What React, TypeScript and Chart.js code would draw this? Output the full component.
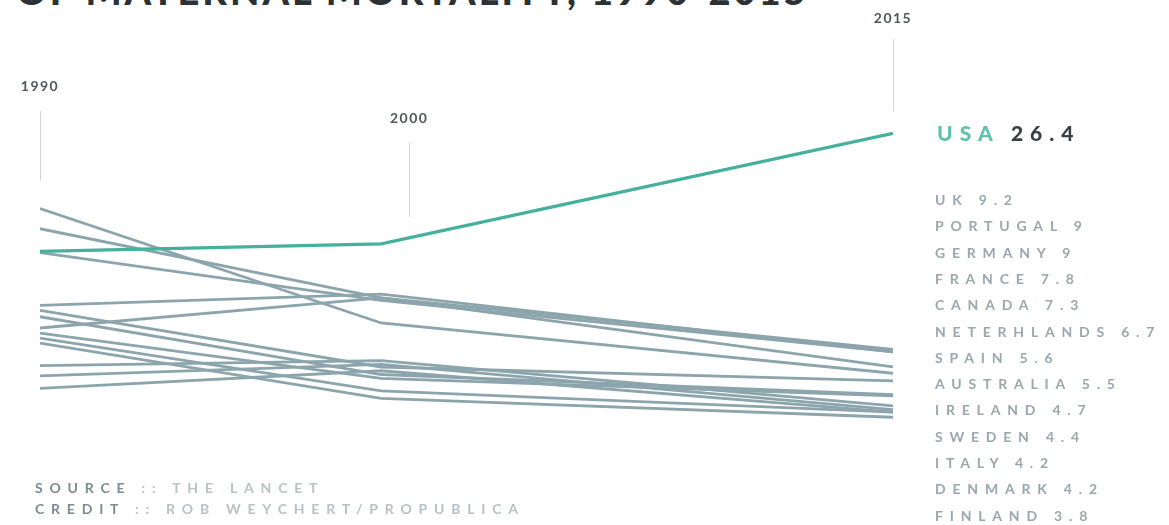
import React, { useEffect, useRef } from "react";
import { Chart, registerables } from "chart.js";

Chart.register(...registerables);

// ---- data ----
const years = [1990, 2000, 2015];
const usaValues = [17.0, 17.6, 26.4];
const countries = [
  "UK", "PORTUGAL", "GERMANY", "FRANCE", "CANADA", "NETERHLANDS", "SPAIN",
  "AUSTRALIA", "IRELAND", "SWEDEN", "ITALY", "DENMARK", "FINLAND",
];
const values1990 = [18.8, 16.9, 12.7, 10.9, 20.4, 12.3, 11.8, 10.5, 7.9, 7.1, 10.1, 6.1, 9.7];
const values2000 = [13.3, 13.1, 13.6, 13.3, 11.3, 7.8, 7.2, 6.9, 8.3, 8.0, 5.9, 7.5, 5.3];
const values2015 = [9.2, 9, 9, 7.8, 7.3, 6.7, 5.6, 5.5, 4.7, 4.4, 4.2, 4.2, 3.8];
const yearLabels = ["1990", "2000", "2015"];

const W = 1169;
const H = 525;
const TEAL = "#45b09c";
const GRAY = "#8ca5ad";

const labelStyle: React.CSSProperties = {
  fontFamily: "Lato, sans-serif",
  fontWeight: 700,
  fontSize: 14,
  letterSpacing: "6.8px",
  color: "#9aa7ac",
  whiteSpace: "nowrap",
  lineHeight: "16px",
};

const markerPlugin = {
  id: "yearMarkers",
  beforeDatasetsDraw(chart: any, _args: any, opts: any) {
    const { ctx, scales } = chart;
    const xs = scales.x;
    const ys = scales.y;
    ctx.save();
    years.forEach((yr, i) => {
      const all = [usaValues[i], ...(i === 0 ? values1990 : i === 1 ? values2000 : values2015)];
      const top = Math.max(...all);
      const m = opts.markers[i];
      const x = xs.getPixelForValue(yr) + m.dx;
      const yTop = ys.getPixelForValue(top);
      const lineBottom = yTop - m.gap;
      const lineTop = lineBottom - m.len;
      ctx.strokeStyle = "#cfd4d6";
      ctx.lineWidth = 1;
      ctx.beginPath();
      ctx.moveTo(Math.round(x) + 0.5, lineTop);
      ctx.lineTo(Math.round(x) + 0.5, lineBottom);
      ctx.stroke();
      ctx.fillStyle = "#50565a";
      ctx.font = "700 14px Lato, sans-serif";
      ctx.textAlign = "center";
      ctx.textBaseline = "middle";
      (ctx as any).letterSpacing = "1.5px";
      ctx.fillText(yearLabels[i], x, lineTop - m.labelGap);
    });
    ctx.restore();
  },
};

export default function App() {
  const ref = useRef<HTMLCanvasElement>(null);

  useEffect(() => {
    if (!ref.current) return;
    const grayDatasets = countries.map((c, i) => ({
      label: c,
      data: years.map((yr, j) => ({ x: yr, y: [values1990[i], values2000[i], values2015[i]][j] })),
      borderColor: GRAY,
      borderWidth: 2.8,
      pointRadius: 0,
      tension: 0,
      order: 1,
    }));
    const chart = new Chart(ref.current, {
      type: "line",
      data: {
        datasets: [
          {
            label: "USA",
            data: years.map((yr, j) => ({ x: yr, y: usaValues[j] })),
            borderColor: TEAL,
            borderWidth: 3.2,
            pointRadius: 0,
            tension: 0,
            order: 0,
          },
          ...grayDatasets,
        ],
      },
      options: {
        responsive: false,
        animation: false,
        devicePixelRatio: 1,
        layout: { padding: { left: 40, right: W - 893, top: 88, bottom: 60 } },
        scales: {
          x: { type: "linear", min: 1990, max: 2015, display: false },
          y: { type: "linear", min: 0, max: 30, display: false },
        },
        plugins: {
          legend: { display: false },
          tooltip: { enabled: false },
          yearMarkers: {
            markers: [
              { dx: 0, gap: 28, len: 70, labelGap: 24 },
              { dx: 28, gap: 27, len: 74, labelGap: 24 },
              { dx: 0, gap: 22, len: 72, labelGap: 21 },
            ],
          },
        } as any,
      },
      plugins: [markerPlugin],
    });
    return () => chart.destroy();
  }, []);

  return (
    <div
      style={{
        position: "fixed",
        left: 0,
        top: 0,
        width: W,
        height: H,
        overflow: "hidden",
        background: "#ffffff",
      }}
    >
      <div
        style={{
          position: "absolute",
          left: 16,
          top: -29,
          fontFamily: "Lato, sans-serif",
          fontWeight: 900,
          fontSize: 38,
          letterSpacing: "3px",
          color: "#2b3135",
          whiteSpace: "nowrap",
          lineHeight: "38px",
        }}
      >
        OF MATERNAL MORTALITY, 1990-2015
      </div>
      <canvas ref={ref} width={W} height={H} style={{ position: "absolute", left: 0, top: 0 }} />
      <div
        style={{
          position: "absolute",
          left: 937,
          top: 121,
          fontFamily: "Lato, sans-serif",
          fontWeight: 900,
          fontSize: 21,
          letterSpacing: "7px",
          whiteSpace: "nowrap",
          lineHeight: "24px",
        }}
      >
        <span style={{ color: "#5fc2ae" }}>USA</span>{" "}
        <span style={{ color: "#3a4044" }}>{usaValues[2]}</span>
      </div>
      {countries.map((c, i) => (
        <div key={c} style={{ ...labelStyle, position: "absolute", left: 935, top: 192 + i * 26.3 }}>
          {c} {values2015[i]}
        </div>
      ))}
      <div style={{ ...labelStyle, position: "absolute", left: 35, top: 480 }}>
        <span style={{ color: "#7f8a8f" }}>SOURCE</span>
        <span style={{ color: "#b9c1c4" }}> :: THE LANCET</span>
      </div>
      <div style={{ ...labelStyle, position: "absolute", left: 35, top: 501 }}>
        <span style={{ color: "#7f8a8f" }}>CREDIT</span>
        <span style={{ color: "#b9c1c4" }}> :: ROB WEYCHERT/PROPUBLICA</span>
      </div>
    </div>
  );
}
